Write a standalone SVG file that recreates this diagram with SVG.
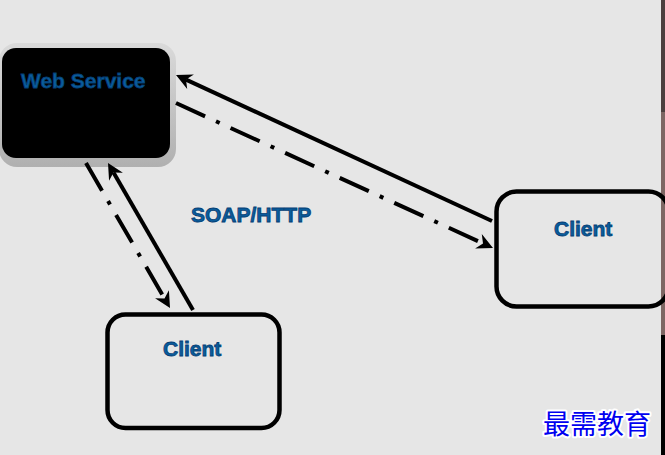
<svg xmlns="http://www.w3.org/2000/svg" width="665" height="455" viewBox="0 0 665 455">
<defs>
<style>
.lbl{font-family:"Liberation Sans",Arial,sans-serif;font-weight:bold;font-size:21px;fill:#0a5c9c;stroke:#053f75;stroke-width:0.8px}
.box{fill:none;stroke:#000;stroke-width:4.5}
.conn{fill:none;stroke:#000;stroke-width:4}
.dd{stroke-dasharray:32 12 4 12}
.wm{font-family:"Noto Sans CJK SC",sans-serif;font-size:27px;fill:#0000f0;stroke:#fff;stroke-width:4px;paint-order:stroke;stroke-linejoin:round}
</style>
<linearGradient id="shadow" x1="0" y1="0" x2="0" y2="1">
<stop offset="0" stop-color="#dadada"/>
<stop offset="1" stop-color="#b0b0b0"/>
</linearGradient>
<marker id="arr" markerUnits="userSpaceOnUse" viewBox="-6 -9 18 18" refX="0" refY="0" markerWidth="18" markerHeight="18" orient="auto">
<path d="M11,0 L-5,-8 L0,0 L-5,8 Z" fill="#000"/>
</marker>
</defs>
<rect x="0" y="0" width="665" height="455" fill="#e6e6e6"/>
<g id="edge-strip">
<rect x="661" y="0" width="4" height="112" fill="#4b3f3e"/>
<rect x="661" y="112" width="4" height="223" fill="#7d6663"/>
<rect x="661" y="335" width="4" height="120" fill="#000"/>
</g>
<g id="web-service">
<rect x="-1" y="43" width="177" height="124" rx="18" fill="url(#shadow)"/>
<rect x="2" y="48" width="168" height="110" rx="14" fill="#000"/>
<text class="lbl" x="21" y="88">Web Service</text>
</g>
<g id="client-right">
<rect class="box" x="496.5" y="191.5" width="172" height="115" rx="20" stroke-width="5"/>
<text class="lbl" x="554" y="236">Client</text>
</g>
<g id="client-bottom">
<rect class="box" x="107.5" y="314.5" width="172" height="113.5" rx="18"/>
<text class="lbl" x="163" y="356">Client</text>
</g>
<g id="connectors">
<line class="conn" x1="492" y1="221" x2="186" y2="79.6" marker-end="url(#arr)"/>
<line class="conn dd" x1="176" y1="103" x2="483" y2="243.4" marker-end="url(#arr)"/>
<line class="conn dd" x1="86" y1="163" x2="164.5" y2="298.5" marker-end="url(#arr)"/>
<line class="conn" x1="193" y1="310" x2="113.5" y2="172.5" marker-end="url(#arr)"/>
</g>
<g id="label-soap">
<text class="lbl" x="191" y="222">SOAP/HTTP</text>
</g>
<g id="watermark">
<text class="wm" x="543" y="434">最需教育</text>
</g>
</svg>
